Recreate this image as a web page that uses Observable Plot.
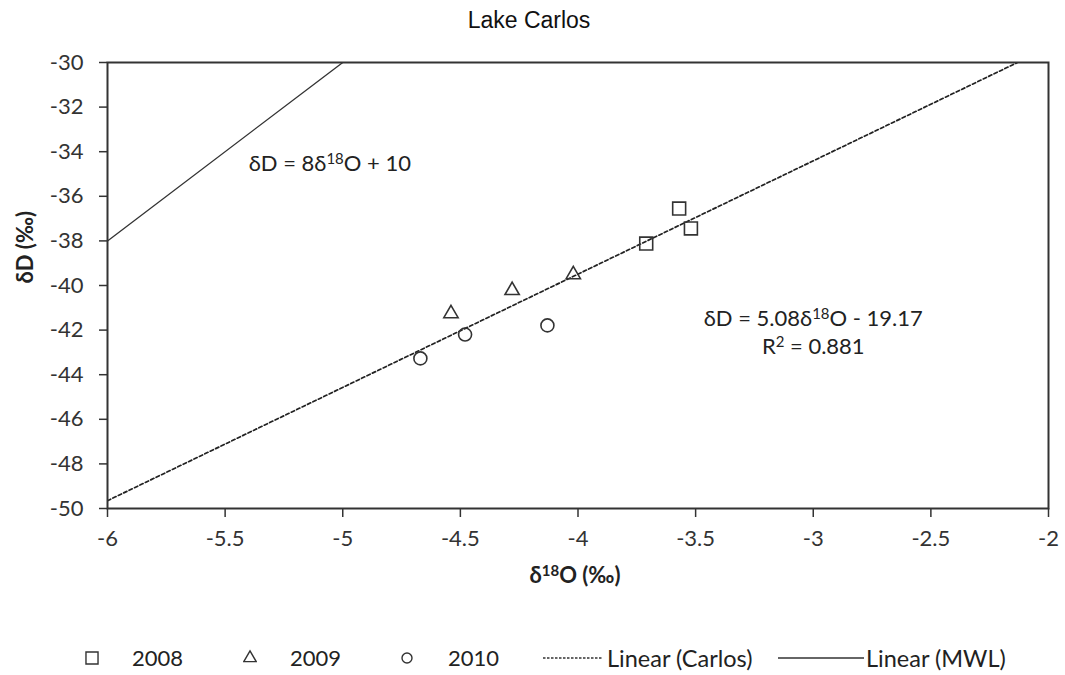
<!DOCTYPE html>
<html>
<head>
<meta charset="utf-8">
<script src="https://cdn.jsdelivr.net/npm/d3@7"></script>
<script src="https://cdn.jsdelivr.net/npm/@observablehq/plot@0.6"></script>
<style>
  body { margin: 0; background: #fff; }
  #wrap { position: relative; width: 1065px; height: 675px; font-family: Lato, "Open Sans", sans-serif; color: #222; background: #fff; }
  #title { height: 40px; line-height: 40px; text-align: center; padding-right: 7px; font-family: "Liberation Sans", Arial, sans-serif; font-size: 23px; color: #111; }
  #chart svg { display: block; }
  .lg { position: absolute; top: 645px; height: 26px; line-height: 26px; font-size: 22px; color: #222; white-space: nowrap; }
  .lg svg { display: block; }
</style>
</head>
<body>
<div id="wrap">
  <div id="title">Lake Carlos</div>
  <div id="chart"></div>
  <div id="legend"></div>
</div>
<script>
// ---- data ----
const x2008 = [-3.57, -3.52, -3.71];
const y2008 = [-36.55, -37.44, -38.12];
const x2009 = [-4.02, -4.28, -4.54];
const y2009 = [-39.51, -40.22, -41.26];
const x2010 = [-4.13, -4.48, -4.67];
const y2010 = [-41.79, -42.20, -43.27];

const carlosSlope = 5.08, carlosIntercept = -19.17, carlosR2 = 0.881;
const mwlSlope = 8, mwlIntercept = 10;
const lineX = [-6, -2];

const xTicks = [-6, -5.5, -5, -4.5, -4, -3.5, -3, -2.5, -2];
const yTicks = [-50, -48, -46, -44, -42, -40, -38, -36, -34, -32, -30];

const seriesNames = ["2008", "2009", "2010", "Linear (Carlos)", "Linear (MWL)"];
const mwlLabel = "δD = 8δ¹⁸O + 10";
const carlosLabel = "δD = 5.08δ¹⁸O - 19.17\nR² = 0.881";
const xTitle = "δ¹⁸O (‰)";
const yTitle = "δD (‰)";

// ---- tables ----
const pts = (xs, ys) => xs.map((x, i) => ({x, y: ys[i]}));
const p2008 = pts(x2008, y2008), p2009 = pts(x2009, y2009), p2010 = pts(x2010, y2010);
const carlosLine = lineX.map(x => ({x, y: carlosSlope * x + carlosIntercept}));
const mwlLine = lineX.map(x => ({x, y: mwlSlope * x + mwlIntercept}));

const ink = "#333";
const fmt = d => String(d);

const chart = Plot.plot({
  width: 1065,
  height: 585,
  marginLeft: 107,
  marginRight: 17,
  marginTop: 22,
  marginBottom: 117,
  style: { fontFamily: "Lato, 'Open Sans', sans-serif", fontSize: "22px", color: ink, background: "white" },
  x: { domain: [-6, -2] },
  y: { domain: [-50, -30] },
  marks: [
    Plot.axisX({ ticks: xTicks, tickFormat: fmt, tickSize: 9, tickPadding: 13, label: null, stroke: ink, strokeWidth: 1.5, fontSize: 22 }),
    Plot.axisY({ ticks: yTicks, tickFormat: fmt, tickSize: 8, tickPadding: 16, label: null, stroke: ink, strokeWidth: 1.5, fontSize: 22 }),
    Plot.line(carlosLine, { x: "x", y: "y", stroke: "#222", strokeWidth: 1.7, strokeDasharray: "3.5,2.5", clip: true }),
    Plot.line(mwlLine, { x: "x", y: "y", stroke: ink, strokeWidth: 1.3, clip: true }),
    Plot.frame({ stroke: ink, strokeWidth: 2 }),
    Plot.dot(p2008, { x: "x", y: "y", symbol: "square", r: 7.3, stroke: ink, strokeWidth: 1.6, fill: "none" }),
    Plot.dot(p2009, { x: "x", y: "y", symbol: "triangle", r: 5.3, stroke: ink, strokeWidth: 1.6, fill: "none" }),
    Plot.dot(p2010, { x: "x", y: "y", symbol: "circle", r: 6.5, stroke: ink, strokeWidth: 1.6, fill: "none" }),
    Plot.text([mwlLabel], { x: () => -5.40, y: () => -34.53, text: d => d, textAnchor: "start", fontSize: 22, fill: "#222" }),
    Plot.text([carlosLabel], { x: () => -3.0, y: () => -42.06, text: d => d, textAnchor: "middle", lineAnchor: "middle", lineHeight: 1.27, fontSize: 22, fill: "#222" }),
    Plot.text([yTitle], { frameAnchor: "left", dx: -82, dy: -2, rotate: -90, text: d => d, fontSize: 22, fontWeight: "bold", fill: "#222" }),
    Plot.text([xTitle], { frameAnchor: "bottom", dy: 74, dx: -3, text: d => d, fontSize: 22, fontWeight: "bold", fill: "#222" })
  ]
});

// render superscripts (¹⁸, ²) as real raised, smaller text
const supMap = { "¹": "1", "²": "2", "⁸": "8" };
d3.select(chart).selectAll("text, tspan").each(function () {
  const node = this;
  if (node.querySelector && node.querySelector("tspan")) return;
  const s = node.textContent;
  if (!/[¹²⁸]/.test(s)) return;
  const parts = s.match(/[¹²⁸]+|[^¹²⁸]+/g);
  while (node.firstChild) node.removeChild(node.firstChild);
  parts.forEach(p => {
    const t = document.createElementNS("http://www.w3.org/2000/svg", "tspan");
    if (/[¹²⁸]/.test(p)) {
      t.textContent = p.split("").map(c => supMap[c]).join("");
      t.setAttribute("font-size", "0.68em");
      t.setAttribute("baseline-shift", "0.45em");
    } else {
      t.textContent = p;
    }
    node.appendChild(t);
  });
});
document.getElementById("chart").appendChild(chart);

// ---- legend ----
const legend = document.getElementById("legend");
const sym = { "2008": d3.symbolSquare, "2009": d3.symbolTriangle, "2010": d3.symbolCircle };
const symR = { "2008": 6.8, "2009": 4.6, "2010": 5.0 };
const layout = [
  { name: seriesNames[0], sw: 85, swW: 14, lab: 132 },
  { name: seriesNames[1], sw: 243, swW: 14, lab: 290 },
  { name: seriesNames[2], sw: 400, swW: 14, lab: 448 },
  { name: seriesNames[3], sw: 543, swW: 60, lab: 607, dash: "2.5,1.5" },
  { name: seriesNames[4], sw: 778, swW: 86, lab: 866, dash: null }
];
layout.forEach((it, i) => {
  const s = document.createElement("div");
  s.className = "lg";
  s.style.left = it.sw + "px";
  const svg = d3.create("svg").attr("width", it.swW).attr("height", 26);
  if (i < 3) {
    const r = symR[it.name];
    svg.append("path")
      .attr("d", d3.symbol(sym[it.name], Math.PI * r * r)())
      .attr("transform", `translate(${it.swW / 2},13)`)
      .attr("fill", "none").attr("stroke", ink).attr("stroke-width", 1.4);
  } else {
    svg.append("line").attr("x1", 0).attr("x2", it.swW).attr("y1", 13).attr("y2", 13)
      .attr("stroke", ink).attr("stroke-width", 1.5)
      .attr("stroke-dasharray", it.dash);
  }
  s.appendChild(svg.node());
  legend.appendChild(s);
  const t = document.createElement("div");
  t.className = "lg";
  t.style.left = it.lab + "px";
  t.style.fontSize = i < 3 ? "22px" : "23.5px";
  t.textContent = it.name;
  legend.appendChild(t);
});
</script>
</body>
</html>
